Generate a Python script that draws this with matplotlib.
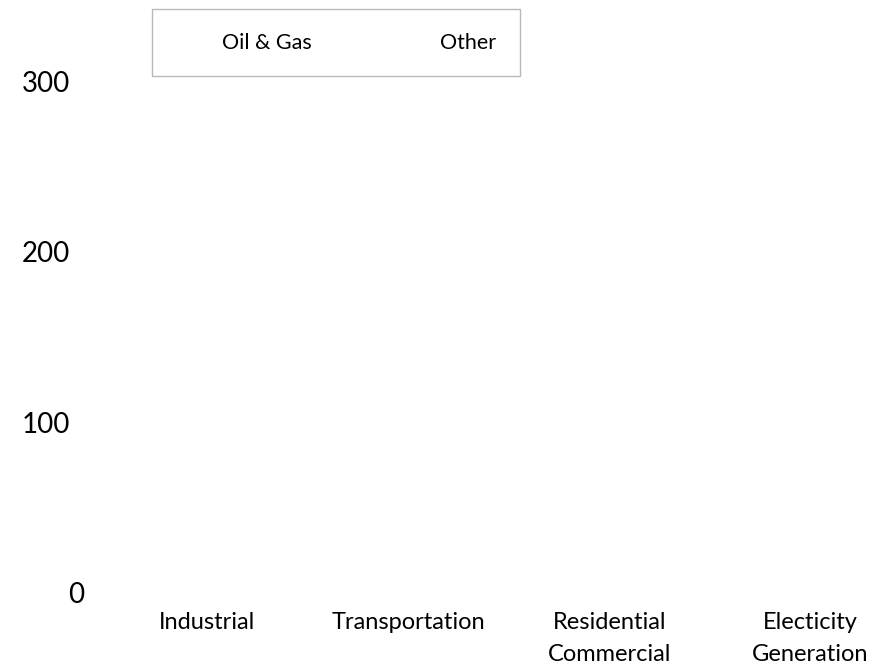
import numpy as np
import matplotlib.pyplot as plt
import matplotlib.transforms as mtransforms

plt.rcParams['font.family'] = ['Lato', 'DejaVu Sans']

categories = ['Industrial', 'Transportation', 'Residential\nCommercial', 'Electicity\nGeneration']
oil_gas = [0, 0, 0, 0]
other = [0, 0, 0, 0]
y_ticks = [0, 100, 200, 300]

fig = plt.figure(figsize=(8.84, 6.70), dpi=100)
ax = fig.add_axes([0.13, 0.116, 0.855, 0.762])

x = np.arange(len(categories))
w = 0.35
ax.bar(x - w / 2, oil_gas, w, color='white', label='Oil & Gas')
ax.bar(x + w / 2, other, w, color='white', label='Other')

ax.set_xlim(-0.46, 3.30)
ax.set_ylim(0, 300)
ax.set_yticks(y_ticks)
ax.set_xticks(x)
ax.set_xticklabels(categories, fontsize=17, va='top', linespacing=1.65)
ax.tick_params(axis='y', length=0, pad=32, labelsize=20)
ax.tick_params(axis='x', length=0, pad=14)
for s in ax.spines.values():
    s.set_visible(False)

# the "0" label sits further right in the original
zero = ax.get_yticklabels()[0]
zero.set_transform(zero.get_transform() + mtransforms.ScaledTranslation(14 / 100, 0, fig.dpi_scale_trans))

leg = ax.legend(loc='upper left', bbox_to_anchor=(152 / 884, 1 - 9 / 670),
                bbox_transform=fig.transFigure, ncol=2, fontsize=15.5,
                frameon=True, fancybox=False, borderpad=1.1, handlelength=1.6,
                handletextpad=0.56, columnspacing=3.8, borderaxespad=0)
leg.get_frame().set_edgecolor('#a6a6a6')
leg.get_frame().set_linewidth(1.0)
for h in leg.legend_handles:
    h.set_visible(False)

fig.savefig('out.png', dpi=100)
